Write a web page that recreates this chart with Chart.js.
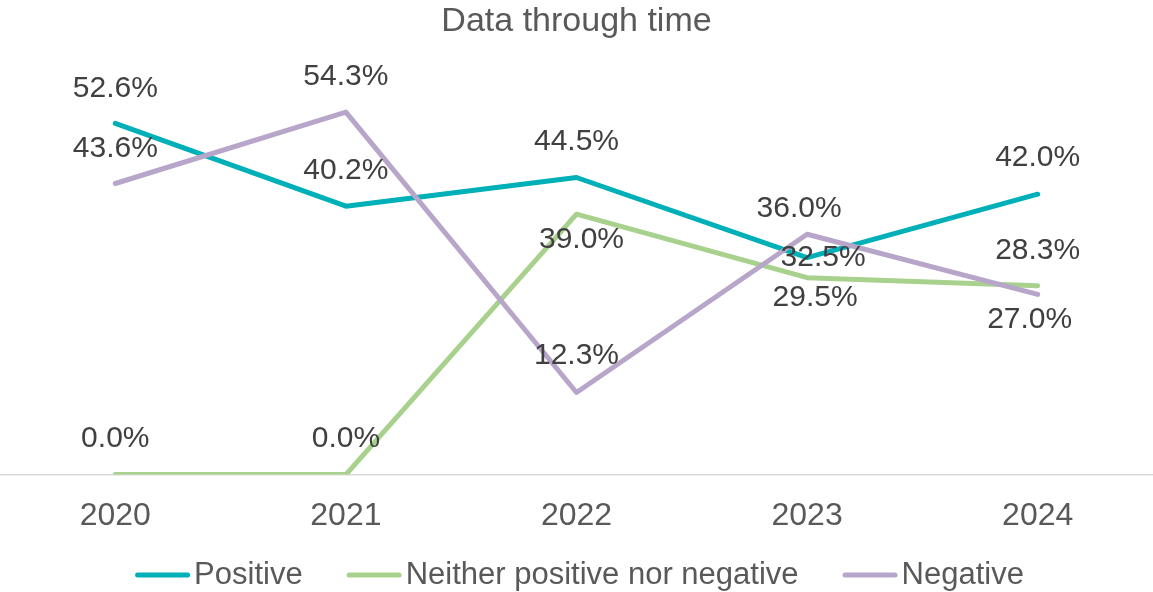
<!DOCTYPE html>
<html>
<head>
<meta charset="utf-8">
<script src="https://cdn.jsdelivr.net/npm/chart.js@4/dist/chart.umd.min.js"></script>
<style>
  html, body { margin:0; padding:0; background:#fff; }
  #wrap { width:1153px; height:592px; position:relative; }
</style>
</head>
<body>
<div id="wrap"><canvas id="chart"></canvas></div>
<script>
// ── Data ─────────────────────────────────────────────────
const years    = ['2020','2021','2022','2023','2024'];
const positive = [52.6, 40.2, 44.5, 32.5, 42.0];
const neither  = [0.0, 0.0, 39.0, 29.5, 28.3];
const negative = [43.6, 54.3, 12.3, 36.0, 27.0];

const FONT = "'Liberation Sans', Arial, sans-serif";

// label nudges (px) relative to each point
const posShift = [[0,-35],[0,-35],[0,-36],[16,0],[0,-36]];
const neiShift = [[0,-36],[0,-36],[5,26],[8,20],[0,-35]];
const negShift = [[0,-35],[0,-35],[0,-37],[-8,-26],[-8,25]];

// ── Data labels ──────────────────────────────────────────
const pointLabels = {
  id: 'pointLabels',
  afterDatasetsDraw(chart) {
    const ctx = chart.ctx;
    ctx.save();
    ctx.font = '30px ' + FONT;
    ctx.fillStyle = '#404040';
    ctx.textAlign = 'center';
    ctx.textBaseline = 'middle';
    chart.data.datasets.forEach((ds, i) => {
      chart.getDatasetMeta(i).data.forEach((pt, j) => {
        const s = ds.labelShift[j];
        ctx.fillText(ds.data[j].toFixed(1) + '%', pt.x + s[0], pt.y + s[1]);
      });
    });
    ctx.restore();
  }
};

// ── Legend (line samples, drawn under the axis labels) ───
const lineLegend = {
  id: 'lineLegend',
  afterDraw(chart) {
    const ctx = chart.ctx;
    const sample = 55, gapText = 4, gapItem = 44, y = 575;
    ctx.save();
    ctx.font = '31px ' + FONT;
    ctx.textBaseline = 'middle';
    const items = chart.data.datasets.map(ds => ({ text: ds.label, color: ds.borderColor, w: ctx.measureText(ds.label).width }));
    const total = items.reduce((s, it) => s + sample + gapText + it.w, 0) + gapItem * (items.length - 1);
    let x = (chart.width - total) / 2 + 3;
    items.forEach(it => {
      ctx.strokeStyle = it.color;
      ctx.lineWidth = 5;
      ctx.lineCap = 'round';
      ctx.beginPath();
      ctx.moveTo(x + 2.5, y); ctx.lineTo(x + sample - 2.5, y);
      ctx.stroke();
      ctx.fillStyle = '#595959';
      ctx.fillText(it.text, x + sample + gapText, y);
      x += sample + gapText + it.w + gapItem;
    });
    ctx.restore();
  }
};

const line = (label, data, color, shift, order) => ({
  label, data,
  borderColor: color, backgroundColor: color,
  borderWidth: 5, borderCapStyle: 'round', borderJoinStyle: 'round',
  pointRadius: 0, pointHoverRadius: 0, tension: 0,
  labelShift: shift, order
});

new Chart(document.getElementById('chart'), {
  type: 'line',
  data: {
    labels: years,
    datasets: [
      line('Positive', positive, '#00B0B9', posShift, 2),
      line('Neither positive nor negative', neither, '#A9D18E', neiShift, 3),
      line('Negative', negative, '#B7A6C9', negShift, 1)
    ]
  },
  options: {
    responsive: true, maintainAspectRatio: false, animation: false,
    layout: { padding: { top: 0, bottom: 35, left: 0, right: 0 } },
    plugins: {
      tooltip: { enabled: false },
      legend: { display: false },
      title: {
        display: true, text: 'Data through time', color: '#595959',
        font: { family: FONT, size: 34, weight: 'normal' },
        padding: { top: 1, bottom: 32.2 }
      }
    },
    scales: {
      x: {
        offset: true,
        grid: { display: false, drawTicks: false },
        border: { display: true, color: '#D9D9D9', width: 1.5 },
        ticks: { color: '#595959', font: { family: FONT, size: 32 }, padding: 22 }
      },
      y: { display: false, min: 0, max: 60 }
    }
  },
  plugins: [pointLabels, lineLegend]
});
</script>
</body>
</html>
